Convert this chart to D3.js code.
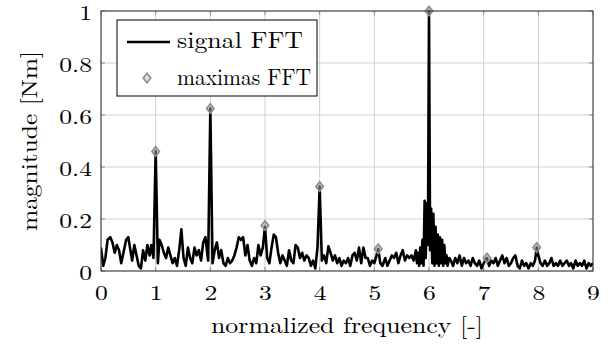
<!DOCTYPE html>
<html>
<head>
<meta charset="utf-8">
<script src="https://cdn.jsdelivr.net/npm/d3@7"></script>
<style>
  html, body { margin: 0; padding: 0; background: #fff; }
  svg { display: block; }
</style>
</head>
<body>
<svg id="chart" width="612" height="347"></svg>
<script>
// ---- data ----
const xTicks = [0, 1, 2, 3, 4, 5, 6, 7, 8, 9];
const yTicks = [0, 0.2, 0.4, 0.6, 0.8, 1];
const yTickLabels = ["0", "0.2", "0.4", "0.6", "0.8", "1"];
const seriesNames = ["signal FFT", "maximas FFT"];
const xLabel = "normalized frequency [-]";
const yLabel = "magnitude [Nm]";

// signal FFT: [normalized frequency, magnitude]
const signalFFT = [
  [0.00,0.09],[0.04,0.02],[0.08,0.05],[0.12,0.12],[0.17,0.13],[0.21,0.11],[0.25,0.07],[0.29,0.10],
  [0.33,0.08],[0.37,0.03],[0.41,0.07],[0.46,0.12],[0.50,0.13],[0.53,0.09],[0.57,0.04],[0.61,0.10],
  [0.65,0.06],[0.69,0.02],[0.73,0.01],[0.77,0.08],[0.81,0.04],[0.85,0.10],[0.89,0.06],[0.92,0.10],
  [0.96,0.05],[1.00,0.46],[1.04,0.03],[1.07,0.12],[1.11,0.10],[1.15,0.07],[1.19,0.05],[1.23,0.09],
  [1.27,0.06],[1.31,0.03],[1.35,0.05],[1.39,0.02],[1.43,0.08],[1.47,0.16],[1.51,0.05],[1.55,0.02],
  [1.59,0.09],[1.63,0.05],[1.67,0.03],[1.71,0.09],[1.75,0.06],[1.79,0.08],[1.83,0.04],[1.87,0.11],
  [1.91,0.13],[1.96,0.04],[2.00,0.625],[2.04,0.03],[2.08,0.08],[2.12,0.11],[2.16,0.05],[2.20,0.08],
  [2.24,0.03],[2.28,0.02],[2.32,0.05],[2.36,0.03],[2.40,0.04],[2.44,0.06],[2.48,0.09],[2.52,0.13],
  [2.56,0.12],[2.60,0.13],[2.64,0.06],[2.68,0.10],[2.72,0.04],[2.76,0.02],[2.80,0.05],[2.84,0.03],
  [2.88,0.10],[2.92,0.06],[2.96,0.09],[3.00,0.17],[3.04,0.05],[3.08,0.03],[3.12,0.09],[3.16,0.14],
  [3.20,0.13],[3.24,0.07],[3.28,0.03],[3.32,0.06],[3.36,0.04],[3.40,0.02],[3.44,0.08],[3.48,0.04],
  [3.52,0.03],[3.56,0.10],[3.60,0.09],[3.64,0.05],[3.68,0.07],[3.72,0.04],[3.76,0.06],[3.80,0.05],
  [3.84,0.02],[3.88,0.04],[3.92,0.01],[3.96,0.09],[4.00,0.325],[4.04,0.04],[4.08,0.06],[4.12,0.03],
  [4.16,0.095],[4.20,0.07],[4.24,0.04],[4.28,0.06],[4.32,0.03],[4.36,0.05],[4.40,0.02],[4.44,0.04],
  [4.48,0.03],[4.52,0.05],[4.56,0.02],[4.60,0.06],[4.64,0.07],[4.68,0.04],[4.72,0.09],[4.76,0.03],
  [4.80,0.09],[4.84,0.05],[4.88,0.05],[4.92,0.02],[4.96,0.04],[5.00,0.03],[5.04,0.06],[5.07,0.085],
  [5.11,0.03],[5.15,0.02],[5.20,0.05],[5.24,0.02],[5.28,0.04],[5.32,0.06],[5.36,0.05],[5.40,0.07],
  [5.44,0.03],[5.48,0.06],[5.52,0.08],[5.56,0.04],[5.60,0.06],[5.64,0.05],[5.68,0.06],[5.72,0.04],
  [5.76,0.08],[5.78,0.03],[5.80,0.07],[5.82,0.02],[5.84,0.09],[5.86,0.03],[5.88,0.12],[5.90,0.02],
  [5.92,0.27],[5.94,0.05],[5.96,0.26],[5.98,0.10],[6.00,1.00],[6.02,0.08],[6.04,0.24],[6.06,0.03],
  [6.08,0.22],[6.10,0.02],[6.12,0.17],[6.14,0.03],[6.16,0.14],[6.18,0.02],[6.20,0.13],[6.22,0.03],
  [6.24,0.12],[6.26,0.02],[6.28,0.10],[6.30,0.03],[6.32,0.06],[6.34,0.02],[6.37,0.05],[6.40,0.04],
  [6.44,0.02],[6.48,0.05],[6.52,0.03],[6.56,0.06],[6.60,0.02],[6.64,0.05],[6.68,0.03],[6.72,0.04],
  [6.76,0.02],[6.80,0.05],[6.84,0.03],[6.88,0.02],[6.92,0.04],[6.96,0.01],[7.00,0.03],[7.06,0.05],
  [7.10,0.02],[7.14,0.04],[7.18,0.03],[7.22,0.05],[7.26,0.02],[7.30,0.04],[7.34,0.06],[7.38,0.03],
  [7.42,0.05],[7.46,0.02],[7.50,0.03],[7.54,0.05],[7.58,0.06],[7.62,0.02],[7.66,0.01],[7.70,0.04],
  [7.74,0.02],[7.78,0.03],[7.82,0.01],[7.86,0.03],[7.90,0.02],[7.94,0.04],[7.97,0.09],[8.00,0.06],
  [8.04,0.03],[8.08,0.02],[8.12,0.04],[8.16,0.02],[8.20,0.03],[8.24,0.05],[8.28,0.02],[8.32,0.03],
  [8.36,0.02],[8.40,0.04],[8.44,0.02],[8.48,0.03],[8.52,0.04],[8.56,0.02],[8.60,0.03],[8.64,0.01],
  [8.68,0.04],[8.72,0.02],[8.76,0.03],[8.80,0.02],[8.84,0.04],[8.88,0.01],[8.92,0.03],[8.96,0.02],
  [9.00,0.03]
];

// maxima of the FFT: [normalized frequency, magnitude]
const maximasFFT = [
  [1.00,0.46],[2.00,0.625],[3.00,0.175],[4.00,0.325],[5.07,0.085],[6.00,1.00],[7.06,0.05],[7.97,0.09]
];

// ---- layout ----
const W = 612, H = 347;
const m = {left: 101, top: 11, right: 19, bottom: 76};
const iw = W - m.left - m.right, ih = H - m.top - m.bottom;
const FONT = '"Latin Modern Roman", "Liberation Serif", serif';
const STRETCH = 1.22; // the reference glyphs are horizontally stretched

const svg = d3.select("#chart");
const x = d3.scaleLinear().domain([0, 9]).range([m.left, m.left + iw]);
const y = d3.scaleLinear().domain([0, 1]).range([m.top + ih, m.top]);

function widen(sel, target) {
  sel.each(function() {
    const len = this.getComputedTextLength();
    const t = target != null ? target : len * STRETCH;
    d3.select(this).attr("textLength", t).attr("lengthAdjust", "spacingAndGlyphs");
  });
}

// grid
const grid = svg.append("g");
grid.selectAll("line.gx").data(xTicks).join("line")
  .attr("x1", d => x(d)).attr("x2", d => x(d))
  .attr("y1", m.top).attr("y2", m.top + ih)
  .attr("stroke", "#cfcfcf").attr("stroke-width", 1);
grid.selectAll("line.gy").data(yTicks).join("line")
  .attr("y1", d => y(d)).attr("y2", d => y(d))
  .attr("x1", m.left).attr("x2", m.left + iw)
  .attr("stroke", "#cfcfcf").attr("stroke-width", 1);

// inner ticks
const tk = svg.append("g").attr("stroke", "#8a8a8a").attr("stroke-width", 1);
xTicks.forEach(d => {
  tk.append("line").attr("x1", x(d)).attr("x2", x(d)).attr("y1", m.top + ih).attr("y2", m.top + ih - 4);
  tk.append("line").attr("x1", x(d)).attr("x2", x(d)).attr("y1", m.top).attr("y2", m.top + 4);
});
yTicks.forEach(d => {
  tk.append("line").attr("y1", y(d)).attr("y2", y(d)).attr("x1", m.left).attr("x2", m.left + 4);
  tk.append("line").attr("y1", y(d)).attr("y2", y(d)).attr("x1", m.left + iw).attr("x2", m.left + iw - 4);
});

// clip
svg.append("clipPath").attr("id", "clip").append("rect")
  .attr("x", m.left).attr("y", m.top - 2).attr("width", iw).attr("height", ih + 2);

// signal line
const line = d3.line().x(d => x(d[0])).y(d => y(d[1])).curve(d3.curveLinear);
svg.append("path").datum(signalFFT)
  .attr("clip-path", "url(#clip)")
  .attr("fill", "none").attr("stroke", "#000").attr("stroke-width", 2.6)
  .attr("stroke-linejoin", "round")
  .attr("d", line);

// markers
const diamond = (cx, cy) => `M${cx},${cy - 4.8}L${cx + 3.8},${cy}L${cx},${cy + 4.8}L${cx - 3.8},${cy}Z`;
svg.append("g").selectAll("path").data(maximasFFT).join("path")
  .attr("d", d => diamond(x(d[0]), y(d[1])))
  .attr("fill", "rgba(150,150,150,0.55)").attr("stroke", "#8c8c8c").attr("stroke-width", 1.6);

// frame
svg.append("rect").attr("x", m.left).attr("y", m.top).attr("width", iw).attr("height", ih)
  .attr("fill", "none").attr("stroke", "#333").attr("stroke-width", 1);

// axes (labels only)
const xAxis = d3.axisBottom(x).tickValues(xTicks).tickSize(0).tickPadding(0).tickFormat(d3.format("d"));
const gx = svg.append("g").attr("transform", `translate(0,${m.top + ih})`).call(xAxis);
gx.select(".domain").remove();
gx.selectAll("text").style("font-family", FONT).style("font-size", "21px")
  .attr("y", 29).attr("dy", 0).attr("fill", "#000");
widen(gx.selectAll("text"));

const yAxis = d3.axisLeft(y).tickValues(yTicks).tickSize(0).tickPadding(0)
  .tickFormat((d, i) => yTickLabels[i]);
const gy = svg.append("g").attr("transform", `translate(${m.left},0)`).call(yAxis);
gy.select(".domain").remove();
gy.selectAll("text").style("font-family", FONT).style("font-size", "21px")
  .attr("x", -9).attr("dy", "0.42em").attr("fill", "#000");
widen(gy.selectAll("text"));

// axis titles
const xt = svg.append("text").attr("x", m.left + iw / 2).attr("y", 333)
  .attr("text-anchor", "middle").style("font-family", FONT).style("font-size", "22px").text(xLabel);
widen(xt, 272);
const yt = svg.append("text").attr("transform", `translate(37,${m.top + ih / 2}) rotate(-90)`)
  .attr("text-anchor", "middle").style("font-family", FONT).style("font-size", "22px").text(yLabel);
widen(yt, 180);

// legend
const lg = svg.append("g");
lg.append("rect").attr("x", 117).attr("y", 20).attr("width", 200).attr("height", 76)
  .attr("fill", "#fff").attr("stroke", "#000").attr("stroke-width", 1);
lg.append("line").attr("x1", 127).attr("x2", 170).attr("y1", 42).attr("y2", 42)
  .attr("stroke", "#000").attr("stroke-width", 2.6);
lg.append("path").attr("d", diamond(147, 78))
  .attr("fill", "rgba(200,200,200,0.6)").attr("stroke", "#8c8c8c").attr("stroke-width", 1.6);
const l1 = lg.append("text").attr("x", 177).attr("y", 48)
  .style("font-family", FONT).style("font-size", "23.5px").text(seriesNames[0]);
widen(l1, 126);
const l2 = lg.append("text").attr("x", 177).attr("y", 85)
  .style("font-family", FONT).style("font-size", "23.5px").text(seriesNames[1]);
widen(l2, 134);
</script>
</body>
</html>
